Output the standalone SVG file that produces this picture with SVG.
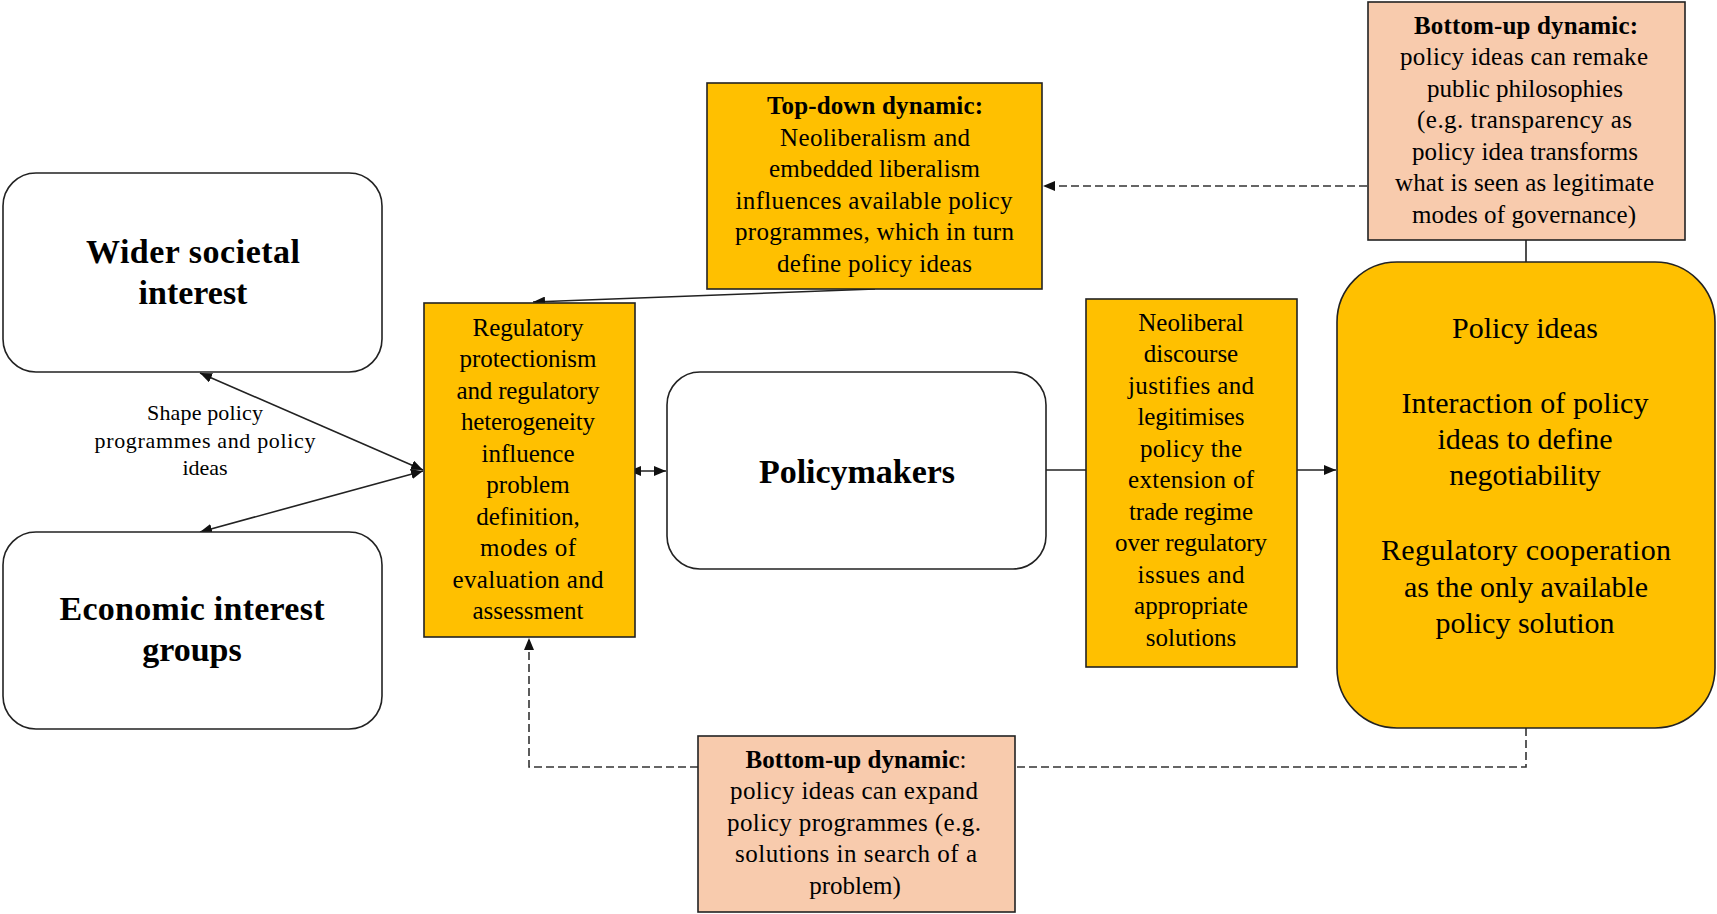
<svg xmlns="http://www.w3.org/2000/svg" width="1717" height="914" viewBox="0 0 1717 914">
<style>
  text { font-family: "Liberation Serif", "Times New Roman", serif; fill: #000; text-anchor: middle; }
  .b { font-weight: bold; }
  .t25 { font-size: 25px; }
  .t30 { font-size: 30px; }
  .t22 { font-size: 22px; }
  .big { font-size: 34px; font-weight: bold; }
  .white { fill: #ffffff; stroke: #222; stroke-width: 1.6; }
  .gold { fill: #FFC000; stroke: #222; stroke-width: 1.6; }
  .peach { fill: #F8CBAD; stroke: #222; stroke-width: 1.6; }
  .conn { fill: none; stroke: #222; stroke-width: 1.6; }
  .dash { fill: none; stroke: #333; stroke-width: 1.6; stroke-dasharray: 8 4; }
</style>
<defs>
  <marker id="arr" viewBox="0 0 12 10" refX="12" refY="5" markerWidth="12" markerHeight="10" markerUnits="userSpaceOnUse" orient="auto-start-reverse">
    <path d="M0,0 L12,5 L0,10 z" fill="#111"/>
  </marker>
</defs>

<g id="connectors">
  <line class="conn" x1="875" y1="289" x2="533" y2="302" marker-end="url(#arr)"/>
  <line class="dash" x1="1367" y1="186" x2="1043" y2="186" marker-end="url(#arr)"/>
  <line class="conn" x1="1526" y1="240" x2="1526" y2="262"/>
  <line class="conn" x1="423" y1="470" x2="200" y2="373" marker-start="url(#arr)" marker-end="url(#arr)"/>
  <line class="conn" x1="423" y1="471" x2="200" y2="532" marker-start="url(#arr)" marker-end="url(#arr)"/>
  <line class="conn" x1="629" y1="471" x2="666" y2="471" marker-start="url(#arr)" marker-end="url(#arr)"/>
  <line class="conn" x1="1046" y1="470" x2="1086" y2="470"/>
  <line class="conn" x1="1297" y1="470" x2="1336" y2="470" marker-end="url(#arr)"/>
  <polyline class="dash" points="1526,728 1526,767 1015,767"/>
  <polyline class="dash" points="698,767 529,767 529,638" marker-end="url(#arr)"/>
</g>

<g id="label-shape">
  <text class="t22" x="205" y="420" textLength="116" lengthAdjust="spacing">Shape policy</text>
  <text class="t22" x="205" y="448" textLength="221" lengthAdjust="spacing">programmes and policy</text>
  <text class="t22" x="205" y="475">ideas</text>
</g>

<g id="wider">
  <rect class="white" x="3" y="173" width="379" height="199" rx="33"/>
  <text class="big" x="193" y="263" textLength="214" lengthAdjust="spacing">Wider  societal</text>
  <text class="big" x="193" y="304">interest</text>
</g>

<g id="economic">
  <rect class="white" x="3" y="532" width="379" height="197" rx="33"/>
  <text class="big" x="192" y="620" textLength="265" lengthAdjust="spacing">Economic interest</text>
  <text class="big" x="192" y="661">groups</text>
</g>

<g id="regulatory">
  <rect class="gold" x="424" y="303" width="211" height="334"/>
  <text class="t25" x="528" y="335.5">Regulatory</text>
  <text class="t25" x="528" y="367" textLength="137" lengthAdjust="spacing">protectionism</text>
  <text class="t25" x="528" y="398.5" textLength="143" lengthAdjust="spacing">and regulatory</text>
  <text class="t25" x="528" y="430" textLength="134" lengthAdjust="spacing">heterogeneity</text>
  <text class="t25" x="528" y="461.5">influence</text>
  <text class="t25" x="528" y="493">problem</text>
  <text class="t25" x="528" y="524.5">definition,</text>
  <text class="t25" x="528" y="556" textLength="96" lengthAdjust="spacing">modes of</text>
  <text class="t25" x="528" y="587.5" textLength="151" lengthAdjust="spacing">evaluation  and</text>
  <text class="t25" x="528" y="619">assessment</text>
</g>

<g id="policymakers">
  <rect class="white" x="667" y="372" width="379" height="197" rx="33"/>
  <text class="big" x="857" y="483" textLength="196" lengthAdjust="spacing">Policymakers</text>
</g>

<g id="topdown">
  <rect class="gold" x="707" y="83" width="335" height="206"/>
  <text class="t25 b" x="875" y="114" textLength="216" lengthAdjust="spacing">Top-down  dynamic:</text>
  <text class="t25" x="875" y="145.6" textLength="190" lengthAdjust="spacing">Neoliberalism  and</text>
  <text class="t25" x="874.5" y="177.2" textLength="211" lengthAdjust="spacing">embedded liberalism</text>
  <text class="t25" x="874" y="208.8" textLength="277" lengthAdjust="spacing">influences  available  policy</text>
  <text class="t25" x="874.5" y="240.4" textLength="279" lengthAdjust="spacing">programmes,  which  in  turn</text>
  <text class="t25" x="874.5" y="272" textLength="195" lengthAdjust="spacing">define  policy  ideas</text>
</g>

<g id="neoliberal">
  <rect class="gold" x="1086" y="299" width="211" height="368"/>
  <text class="t25" x="1191" y="330.5">Neoliberal</text>
  <text class="t25" x="1191" y="362">discourse</text>
  <text class="t25" x="1191" y="393.5" textLength="126" lengthAdjust="spacing">justifies  and</text>
  <text class="t25" x="1191" y="425" textLength="107" lengthAdjust="spacing">legitimises</text>
  <text class="t25" x="1191" y="456.5" textLength="102" lengthAdjust="spacing">policy  the</text>
  <text class="t25" x="1191" y="488" textLength="126" lengthAdjust="spacing">extension  of</text>
  <text class="t25" x="1191" y="519.5" textLength="124" lengthAdjust="spacing">trade regime</text>
  <text class="t25" x="1191" y="551" textLength="152" lengthAdjust="spacing">over regulatory</text>
  <text class="t25" x="1191" y="582.5" textLength="107" lengthAdjust="spacing">issues  and</text>
  <text class="t25" x="1191" y="614">appropriate</text>
  <text class="t25" x="1191" y="645.5">solutions</text>
</g>

<g id="policyideas">
  <rect class="gold" x="1337" y="262" width="378" height="466" rx="60"/>
  <text class="t30" x="1525" y="338">Policy ideas</text>
  <text class="t30" x="1525" y="413" textLength="247" lengthAdjust="spacing">Interaction of policy</text>
  <text class="t30" x="1525" y="449">ideas to define</text>
  <text class="t30" x="1525" y="485">negotiability</text>
  <text class="t30" x="1526" y="560" textLength="290" lengthAdjust="spacing">Regulatory  cooperation</text>
  <text class="t30" x="1526" y="597" textLength="244" lengthAdjust="spacing">as the only available</text>
  <text class="t30" x="1525" y="633">policy solution</text>
</g>

<g id="bottomup-top">
  <rect class="peach" x="1368" y="2" width="317" height="238"/>
  <text class="t25 b" x="1526" y="33.5" textLength="224" lengthAdjust="spacing">Bottom-up  dynamic:</text>
  <text class="t25" x="1524" y="65" textLength="248" lengthAdjust="spacing">policy  ideas can remake</text>
  <text class="t25" x="1525" y="96.5" textLength="196" lengthAdjust="spacing">public  philosophies</text>
  <text class="t25" x="1524.5" y="128" textLength="215" lengthAdjust="spacing">(e.g. transparency  as</text>
  <text class="t25" x="1525" y="159.5" textLength="226" lengthAdjust="spacing">policy  idea transforms</text>
  <text class="t25" x="1524.5" y="191" textLength="259" lengthAdjust="spacing">what is  seen as legitimate</text>
  <text class="t25" x="1524" y="222.5" textLength="224" lengthAdjust="spacing">modes of governance)</text>
</g>

<g id="bottomup-bottom">
  <rect class="peach" x="698" y="736" width="317" height="176"/>
  <text class="t25" x="856" y="767.5" textLength="221" lengthAdjust="spacing"><tspan class="b">Bottom-up  dynamic</tspan>:</text>
  <text class="t25" x="854" y="799" textLength="248" lengthAdjust="spacing">policy  ideas can expand</text>
  <text class="t25" x="854" y="830.5" textLength="254" lengthAdjust="spacing">policy  programmes  (e.g.</text>
  <text class="t25" x="856" y="862" textLength="242" lengthAdjust="spacing">solutions  in search of a</text>
  <text class="t25" x="855" y="893.5">problem)</text>
</g>
</svg>
